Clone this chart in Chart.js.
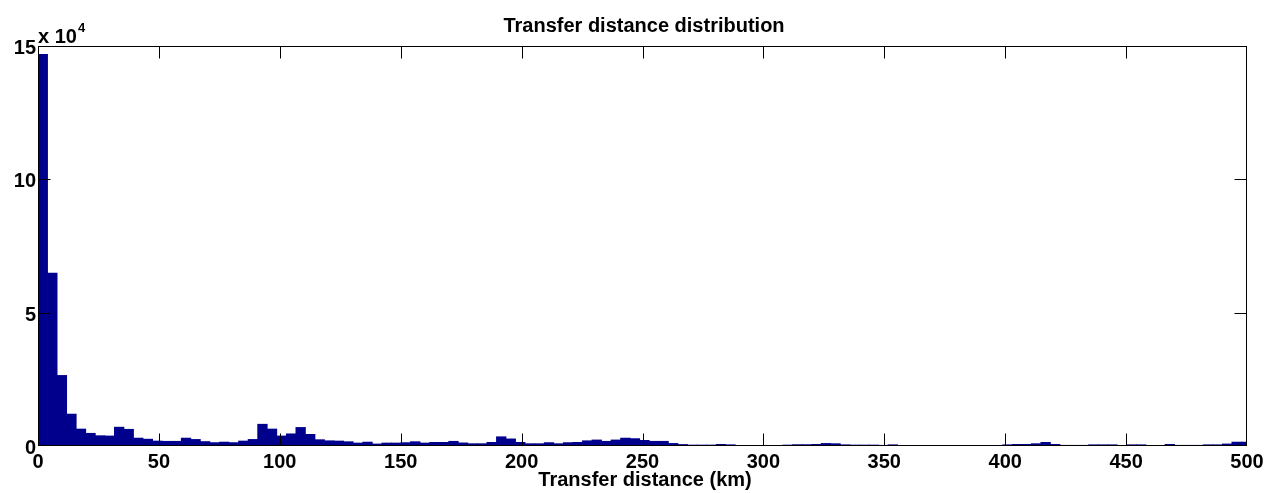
<!DOCTYPE html>
<html>
<head>
<meta charset="utf-8">
<title>Transfer distance distribution</title>
<script src="https://cdn.jsdelivr.net/npm/chart.js@4"></script>
<style>
  html, body { margin: 0; padding: 0; background: #fff; }
  #wrap { width: 1270px; height: 493px; }
</style>
</head>
<body>
<div id="wrap"><canvas id="hist" width="1270" height="493"></canvas></div>
<script>
// histogram bins, width in km
const binWidth = 3.95;
const counts = [
  147000, 65000, 26600, 12100, 6500, 4900, 4000, 3900, 7200, 6400,
  3100, 2700, 2000, 1900, 1900, 3100, 2600, 1800, 1400, 1600,
  1400, 2000, 2600, 8300, 6500, 3900, 4700, 7100, 4500, 2500,
  2100, 2000, 1750, 1250, 1600, 900, 1250, 1250, 1400, 1750,
  1250, 1500, 1500, 1900, 1300, 1000, 1000, 1500, 3600, 2800,
  1500, 1000, 1000, 1400, 1000, 1400, 1500, 2100, 2400, 1900,
  2400, 3100, 2900, 2250, 1900, 1900, 1100, 700, 500, 500,
  500, 750, 600, 350, 350, 350, 350, 350, 500, 650,
  650, 750, 1100, 1000, 600, 500, 500, 500, 400, 600,
  300, 300, 300, 300, 300, 300, 300, 300, 300, 300,
  300, 600, 750, 750, 1000, 1500, 750, 400, 400, 400,
  600, 600, 600, 350, 600, 600, 300, 300, 750, 400,
  400, 400, 600, 600, 900, 1600, 1600
];

const xTicks = [0, 50, 100, 150, 200, 250, 300, 350, 400, 450, 500];
const yTicks = [0, 50000, 100000, 150000];
const yTickLabels = ['0', '5', '10', '15'];

const titleText = 'Transfer distance distribution';
const xLabelText = 'Transfer distance (km)';

const barColor = 'rgb(0,0,140)';
const font = '"Liberation Sans", Arial, Helvetica, sans-serif';

let points = counts.map((c, i) => ({ x: (i + 0.5) * binWidth, y: c }));

// draws the matlab style box, inward ticks and all the text
const matlabAxes = {
  id: 'matlabAxes',
  afterDraw(chart) {
    let ctx = chart.ctx;
    let area = chart.chartArea;
    let xs = chart.scales.x;
    let ys = chart.scales.y;
    let L = area.left + 0.5, R = area.right - 0.5;
    let T = area.top + 0.5, B = area.bottom - 0.5;
    let tl = 12;

    ctx.save();
    ctx.strokeStyle = '#000';
    ctx.lineWidth = 1;
    ctx.strokeRect(L, T, R - L, B - T);

    ctx.beginPath();
    xTicks.forEach(v => {
      let px = Math.round(xs.getPixelForValue(v)) + 0.5;
      if (v === 0 || v === 500) return;
      ctx.moveTo(px, B); ctx.lineTo(px, B - tl);
      ctx.moveTo(px, T); ctx.lineTo(px, T + tl);
    });
    yTicks.forEach(v => {
      let py = Math.round(ys.getPixelForValue(v)) + 0.5;
      if (v === 0 || v === 150000) return;
      ctx.moveTo(L, py); ctx.lineTo(L + tl, py);
      ctx.moveTo(R, py); ctx.lineTo(R - tl, py);
    });
    ctx.stroke();

    ctx.fillStyle = '#000';
    ctx.font = 'bold 20px ' + font;
    ctx.textBaseline = 'alphabetic';

    // x tick labels
    ctx.textAlign = 'center';
    xTicks.forEach(v => {
      ctx.fillText(String(v), xs.getPixelForValue(v), 468);
    });

    // y tick labels
    ctx.textAlign = 'right';
    yTicks.forEach((v, i) => {
      ctx.fillText(yTickLabels[i], 36, ys.getPixelForValue(v) + 8);
    });

    // exponent
    ctx.textAlign = 'left';
    ctx.fillText('x 10', 38, 43);
    ctx.font = 'bold 13px ' + font;
    ctx.fillText('4', 78, 32);

    // title and x label
    ctx.font = 'bold 20px ' + font;
    ctx.textAlign = 'center';
    ctx.fillText(titleText, 644, 31.5);
    ctx.fillText(xLabelText, 645, 486);
    ctx.restore();
  }
};

new Chart(document.getElementById('hist'), {
  type: 'bar',
  data: {
    datasets: [{
      label: 'Transfers',
      data: points,
      backgroundColor: barColor,
      borderWidth: 0,
      barPercentage: 1,
      categoryPercentage: 1.08,
      grouped: false
    }]
  },
  options: {
    responsive: false,
    animation: false,
    layout: {
      padding: { left: 38, right: 23, top: 46, bottom: 47 }
    },
    plugins: {
      legend: { display: false },
      title: { display: false },
      tooltip: { enabled: false }
    },
    scales: {
      x: { type: 'linear', min: 0, max: 500, offset: false, display: false },
      y: { min: 0, max: 150000, display: false }
    }
  },
  plugins: [matlabAxes]
});
</script>
</body>
</html>
